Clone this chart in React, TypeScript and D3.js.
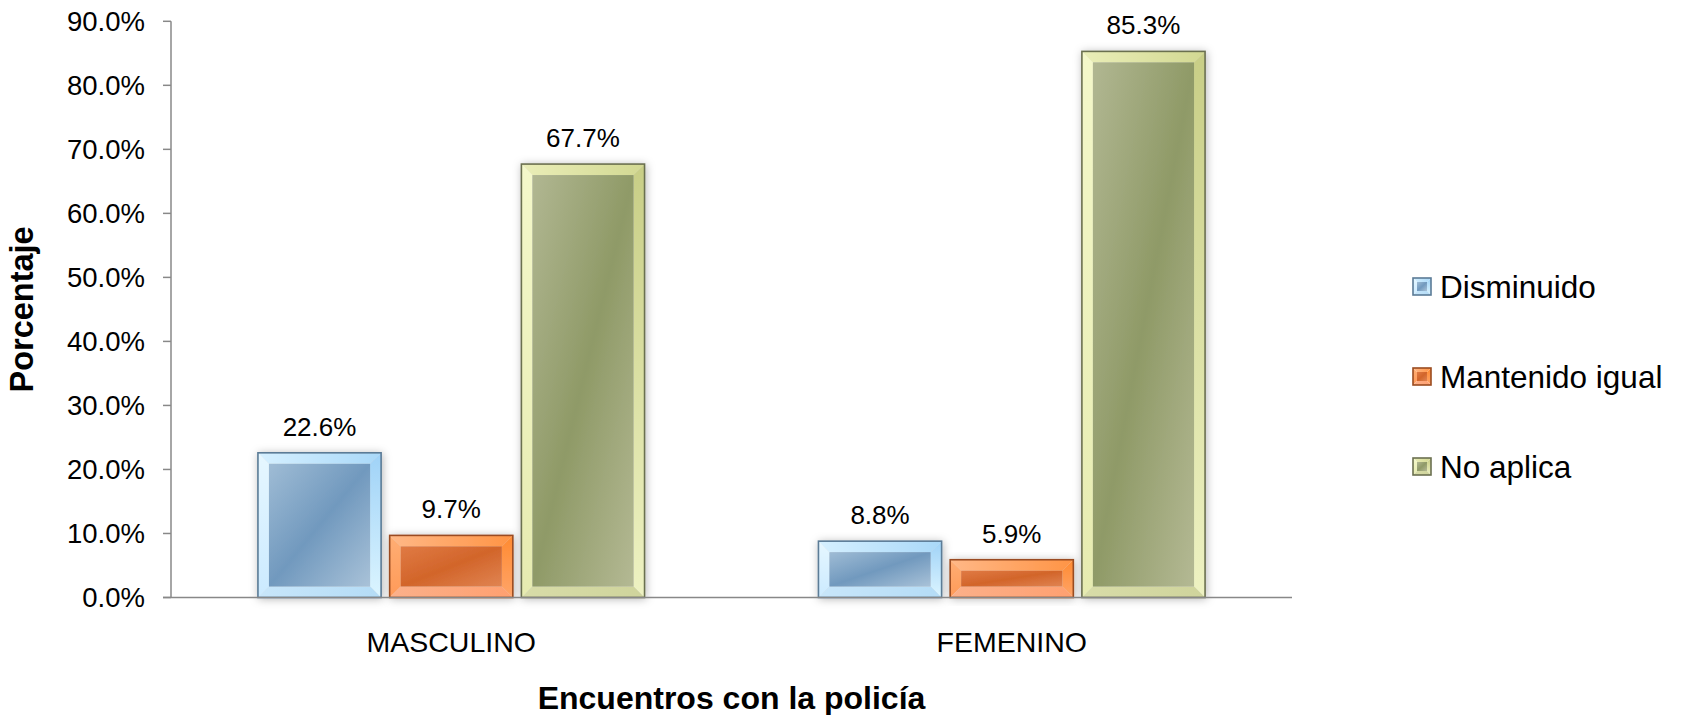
import React from "react";
import * as d3 from "d3";

const categories = ["MASCULINO", "FEMENINO"];
const seriesNames = ["Disminuido", "Mantenido igual", "No aplica"];
const disminuido = [0.226, 0.088];
const mantenido = [0.097, 0.059];
const noAplica = [0.677, 0.853];
const yTicks = [0, 0.1, 0.2, 0.3, 0.4, 0.5, 0.6, 0.7, 0.8, 0.9];
const yTitle = "Porcentaje";
const xTitle = "Encuentros con la policía";

const seriesValues = [disminuido, mantenido, noAplica];

const styles = [
  {
    id: "blue",
    border: "#5b7b96",
    top: ["#d6f0ff", "#a9d8f8"],
    left: ["#e6f7ff", "#cbeaff"],
    right: ["#9fd2f7", "#dcf5ff"],
    bottom: ["#c8e6fa", "#b4dcf6"],
    face: ["#9fbcd5", "#7199be", "#a9c2d8"],
  },
  {
    id: "orange",
    border: "#9a4b20",
    top: ["#ffb887", "#ff9445"],
    left: ["#ffae74", "#ff9a58"],
    right: ["#ff8a30", "#ffa56a"],
    bottom: ["#fbb08a", "#ffa070"],
    face: ["#e07a44", "#d2652a", "#e08452"],
  },
  {
    id: "green",
    border: "#6b7050",
    top: ["#eaeeb8", "#d2d892"],
    left: ["#f4f8ca", "#e6ebb0"],
    right: ["#c8ce86", "#eef2c2"],
    bottom: ["#d8dca8", "#cfd49c"],
    face: ["#b1b792", "#8f9a67", "#b4b994"],
  },
];

const W = 1682;
const H = 715;
const plotLeft = 171;
const plotRight = 1292;
const plotTop = 21.3;
const plotBottom = 597.5;

function BevelBar({ x, y, w, h, s, b, shadow }: any) {
  const bb = Math.min(b, w / 2, h / 2);
  const g = (n: string) => `url(#${s.id}-${n})`;
  const pts = (arr: number[][]) => arr.map((p) => p.join(",")).join(" ");
  return (
    <g filter={shadow ? "url(#barShadow)" : undefined}>
      <polygon
        points={pts([[x, y], [x + w, y], [x + w - bb, y + bb], [x + bb, y + bb]])}
        fill={g("top")}
      />
      <polygon
        points={pts([[x, y], [x + bb, y + bb], [x + bb, y + h - bb], [x, y + h]])}
        fill={g("left")}
      />
      <polygon
        points={pts([[x + w, y], [x + w, y + h], [x + w - bb, y + h - bb], [x + w - bb, y + bb]])}
        fill={g("right")}
      />
      <polygon
        points={pts([[x, y + h], [x + bb, y + h - bb], [x + w - bb, y + h - bb], [x + w, y + h]])}
        fill={g("bottom")}
      />
      <rect x={x + bb} y={y + bb} width={Math.max(0, w - 2 * bb)} height={Math.max(0, h - 2 * bb)} fill={g("face")} />
      <rect x={x} y={y} width={w} height={h} fill="none" stroke={s.border} strokeWidth={1.6} />
    </g>
  );
}

export default function App() {
  const y = d3.scaleLinear().domain([0, 0.9]).range([plotBottom, plotTop]);
  const x0 = d3.scaleBand<string>().domain(categories).range([plotLeft, plotRight]).padding(0);
  const x1 = d3
    .scaleBand<string>()
    .domain(seriesNames)
    .range([0, x0.bandwidth()])
    .paddingInner(0.065)
    .paddingOuter(0.66);
  const fmt = d3.format(".1%");
  const font = "Liberation Sans, Arial, sans-serif";
  const legendY = [287, 377, 467];

  return (
    <div style={{ position: "fixed", left: 0, top: 0 }}>
      <svg width={W} height={H} style={{ display: "block", background: "#fff" }} fontFamily={font}>
        <defs>
          <filter id="barShadow" x="-20%" y="-20%" width="140%" height="140%">
            <feDropShadow dx="1" dy="1" stdDeviation="4" floodColor="#000" floodOpacity="0.28" />
          </filter>
          {styles.map((s) => (
            <React.Fragment key={s.id}>
              <linearGradient id={`${s.id}-top`} x1="0" y1="0" x2="1" y2="0">
                <stop offset="0" stopColor={s.top[0]} />
                <stop offset="1" stopColor={s.top[1]} />
              </linearGradient>
              <linearGradient id={`${s.id}-left`} x1="0" y1="0" x2="0" y2="1">
                <stop offset="0" stopColor={s.left[0]} />
                <stop offset="1" stopColor={s.left[1]} />
              </linearGradient>
              <linearGradient id={`${s.id}-right`} x1="0" y1="0" x2="0" y2="1">
                <stop offset="0" stopColor={s.right[0]} />
                <stop offset="1" stopColor={s.right[1]} />
              </linearGradient>
              <linearGradient id={`${s.id}-bottom`} x1="0" y1="0" x2="1" y2="0">
                <stop offset="0" stopColor={s.bottom[0]} />
                <stop offset="1" stopColor={s.bottom[1]} />
              </linearGradient>
              <linearGradient id={`${s.id}-face`} x1="0" y1="0" x2="1" y2="1">
                <stop offset="0" stopColor={s.face[0]} />
                <stop offset="0.5" stopColor={s.face[1]} />
                <stop offset="1" stopColor={s.face[2]} />
              </linearGradient>
            </React.Fragment>
          ))}
        </defs>

        {/* Y axis */}
        <line x1={plotLeft} x2={plotLeft} y1={plotTop} y2={plotBottom} stroke="#888" strokeWidth={1.5} />
        {yTicks.map((t) => (
          <g key={t}>
            <line x1={plotLeft - 8} x2={plotLeft} y1={y(t)} y2={y(t)} stroke="#888" strokeWidth={1.5} />
            <text x={145} y={y(t)} dy="0.35em" textAnchor="end" fontSize={27.5} fill="#000">
              {fmt(t)}
            </text>
          </g>
        ))}

        {/* Bars */}
        {categories.map((c, ci) =>
          seriesNames.map((sn, si) => {
            const v = seriesValues[si][ci];
            const bx = (x0(c) as number) + (x1(sn) as number);
            const by = y(v);
            const bw = x1.bandwidth();
            const bh = y(0) - y(v);
            return (
              <g key={c + sn}>
                <BevelBar x={bx} y={by} w={bw} h={bh} s={styles[si]} b={11} shadow />
                <text x={bx + bw / 2} y={by - 17} textAnchor="middle" fontSize={26} fill="#000">
                  {fmt(v)}
                </text>
              </g>
            );
          })
        )}

        {/* X axis */}
        <line x1={plotLeft - 8} x2={plotRight} y1={plotBottom} y2={plotBottom} stroke="#888" strokeWidth={1.5} />
        {categories.map((c) => (
          <text
            key={c}
            x={(x0(c) as number) + x0.bandwidth() / 2}
            y={652}
            textAnchor="middle"
            fontSize={28.5}
            fill="#000"
          >
            {c}
          </text>
        ))}

        {/* Titles */}
        <text
          x={(plotLeft + plotRight) / 2}
          y={709}
          textAnchor="middle"
          fontSize={32}
          fontWeight="bold"
          fill="#000"
        >
          {xTitle}
        </text>
        <text
          transform={`translate(33, ${(plotTop + plotBottom) / 2}) rotate(-90)`}
          textAnchor="middle"
          fontSize={32.5}
          fontWeight="bold"
          fill="#000"
        >
          {yTitle}
        </text>

        {/* Legend */}
        {seriesNames.map((sn, si) => (
          <g key={sn}>
            <BevelBar x={1413} y={legendY[si] - 9} w={18} h={17} s={styles[si]} b={4} />
            <text x={1440} y={legendY[si]} dy="0.35em" fontSize={31.5} fill="#000">
              {sn}
            </text>
          </g>
        ))}
      </svg>
    </div>
  );
}
